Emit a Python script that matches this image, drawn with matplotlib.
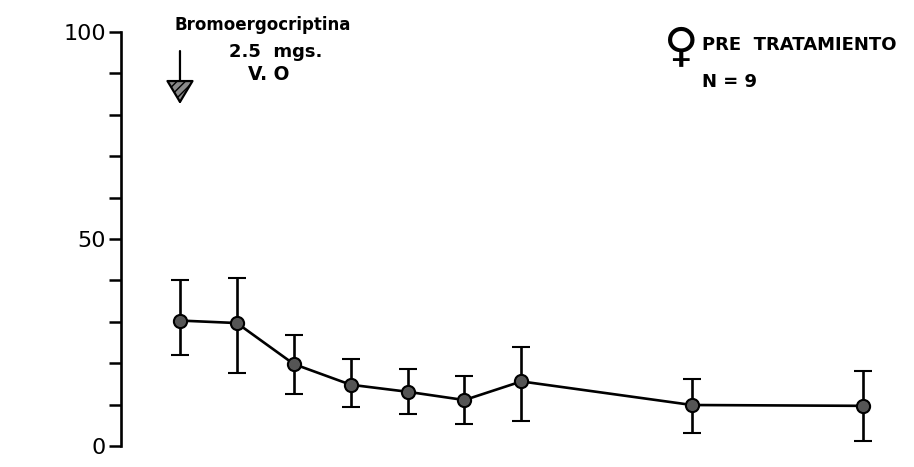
import matplotlib
matplotlib.use("Agg")
import matplotlib.pyplot as plt

# ---- data ----
time_min = [0, 30, 60, 90, 120, 150, 180, 270, 360]
mean_vals = [30.3, 29.7, 19.8, 14.8, 13.1, 11.1, 15.6, 9.9, 9.7]
err_upper = [40.0, 40.6, 26.8, 21.0, 18.6, 16.8, 24.0, 16.1, 18.0]
err_lower = [22.0, 17.6, 12.6, 9.3, 7.7, 5.2, 6.0, 3.1, 1.2]
ytick_values = [0, 10, 20, 30, 40, 50, 60, 70, 80, 90, 100]
ytick_labels = ["0", "", "", "", "", "50", "", "", "", "", "100"]

W, H = 914, 467
fig = plt.figure(figsize=(W / 100, H / 100), dpi=100)
fig.patch.set_facecolor("white")

ax = fig.add_axes([121 / W, 21 / H, (905 - 121) / W, (446 - 32) / H])
ax.set_xlim(-31.1, 382.3)
ax.set_ylim(0, 100)

yerr = [[m - lo for m, lo in zip(mean_vals, err_lower)],
        [hi - m for m, hi in zip(mean_vals, err_upper)]]
ax.errorbar(time_min, mean_vals, yerr=yerr, color="black", lw=1.9,
            elinewidth=1.9, capsize=6.5, capthick=2.0,
            marker="o", markersize=9.5, markerfacecolor="#555555",
            markeredgecolor="black", markeredgewidth=1.5, zorder=3,
            clip_on=False)

for s in ["top", "right", "bottom"]:
    ax.spines[s].set_visible(False)
ax.spines["left"].set_linewidth(1.9)
ax.set_xticks([])
ax.set_yticks(ytick_values)
ax.set_yticklabels(ytick_labels, fontsize=16, family="DejaVu Sans")
ax.tick_params(axis="y", direction="out", length=9, width=1.8, pad=2)

# arrow annotation (dose marker)
arrow_x = 0
arrow_tail_y = 95.4
arrow_tip_y = 82.6
ax.annotate("", xy=(arrow_x, arrow_tip_y), xytext=(arrow_x, arrow_tail_y),
            arrowprops=dict(arrowstyle="-|>,head_length=0.5,head_width=0.3",
                            mutation_scale=30, lw=1.6, facecolor="#8a8a8a",
                            edgecolor="black", hatch="////",
                            shrinkA=0, shrinkB=0),
            annotation_clip=False)

def px(x, y):
    return x / W, 1 - y / H

fig.text(*px(174, 30), "Bromoergocriptina", fontsize=12, ha="left",
         va="baseline", fontweight="bold")
fig.text(*px(229, 57), "2.5  mgs.", fontsize=13, ha="left", va="baseline",
         fontweight="bold")
fig.text(*px(248, 80), "V. O", fontsize=13.5, ha="left", va="baseline",
         fontweight="bold")
fig.text(*px(681, 49), "\u2640", fontsize=34, ha="center", va="center")
fig.text(*px(702, 50), "PRE  TRATAMIENTO", fontsize=13, ha="left",
         va="baseline", fontweight="bold")
fig.text(*px(702, 87), "N = 9", fontsize=13, ha="left", va="baseline",
         fontweight="bold")

fig.savefig("out.png", dpi=100, facecolor="white")
